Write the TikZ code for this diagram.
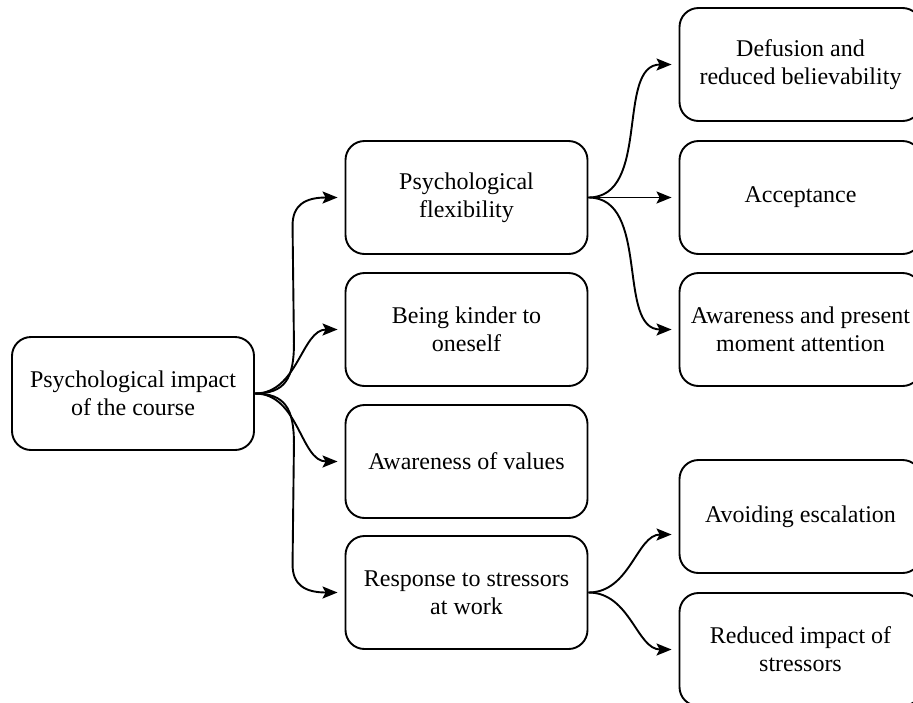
\documentclass[tikz,border=0pt]{standalone}
\usepackage{fontspec}
\setmainfont{Liberation Serif}
\usetikzlibrary{arrows.meta,calc}
\begin{document}
\begin{tikzpicture}[x=1pt,y=-1pt,
  box/.style={draw=black, line width=1.9pt, rounded corners=19pt,
    minimum width=242pt, minimum height=113pt, align=center,
    inner sep=2pt, font=\fontsize{24}{28}\selectfont},
  link/.style={draw=black, line width=1.9pt,
    -{Stealth[length=15pt,width=12pt,inset=3pt]}, shorten >=7pt},
]
\useasboundingbox (0,0) rectangle (913,702);
\clip (0,0) rectangle (913,702);

% root
\node[box] (root) at (133,393.5) {Psychological impact\\of the course};

% middle column
\node[box] (b1) at (466.5,197.5) {Psychological\\flexibility};
\node[box] (b2) at (466.5,329.5) {Being kinder to\\oneself};
\node[box] (b3) at (466.5,461.5) {Awareness of values};
\node[box] (b4) at (466.5,592.5) {Response to stressors\\at work};

% right column
\node[box] (rA) at (800.5,64.5)  {Defusion and\\reduced believability};
\node[box] (rB) at (800.5,197.5) {Acceptance};
\node[box] (rC) at (800.5,329.5) {Awareness and present\\moment attention};
\node[box] (rD) at (800.5,516.5) {Avoiding escalation};
\node[box] (rE) at (800.5,649.5) {Reduced impact of\\stressors};

% root to middle column
\draw[link] (root.east)
  .. controls ($(root.east)+(30,0)$) and ($(root.east)+(39,-15)$) .. ($(root.east)+(39,-50)$)
  -- ($(b1.west)+(-52,28)$)
  .. controls ($(b1.west)+(-52,8)$) and ($(b1.west)+(-40,0)$) .. (b1.west);
\draw[link] (root.east) to[out=0,in=180] (b2.west);
\draw[link] (root.east) to[out=0,in=180] (b3.west);
\draw[link] (root.east)
  .. controls ($(root.east)+(30,0)$) and ($(root.east)+(39,15)$) .. ($(root.east)+(39,50)$)
  -- ($(b4.west)+(-52,-28)$)
  .. controls ($(b4.west)+(-52,-8)$) and ($(b4.west)+(-40,0)$) .. (b4.west);

% middle column to right column
\draw[link] (b1.east) to[out=0,in=180] (rA.west);
\draw[link] (b1.east) -- (rB.west);
\draw[link] (b1.east) to[out=0,in=180] (rC.west);
\draw[link] (b4.east) to[out=0,in=180] ([yshift=-18pt]rD.west);
\draw[link] (b4.east) to[out=0,in=180] (rE.west);
\end{tikzpicture}
\end{document}
